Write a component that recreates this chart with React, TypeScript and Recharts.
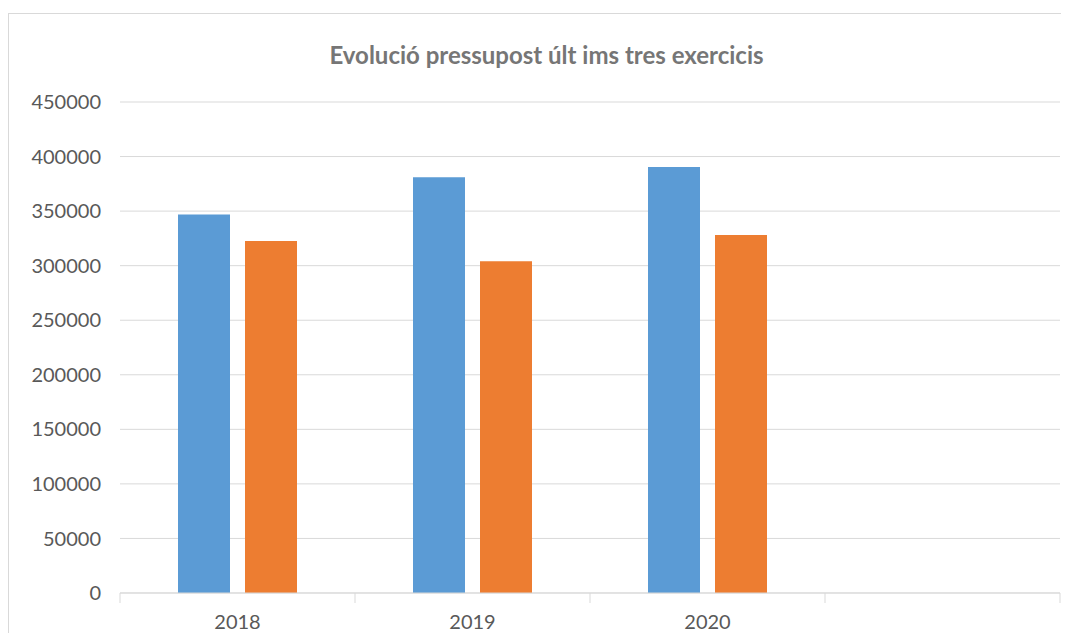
import React from "react";
import { BarChart, Bar, XAxis, YAxis, CartesianGrid } from "recharts";

const categories = ["2018", "2019", "2020", ""];
const seriesBlue = [347000, 381000, 390500, null];
const seriesOrange = [322500, 304000, 328000, null];
const yTicks = [0, 50000, 100000, 150000, 200000, 250000, 300000, 350000, 400000, 450000];
const title = "Evolució pressupost últ ims tres exercicis";

const data = categories.map((c, i) => ({ cat: c, a: seriesBlue[i], b: seriesOrange[i] }));

const CHART_W = 1075;
const CHART_H = 638;
const MARGIN = { top: 88, right: 24, left: 0, bottom: 0 };
const Y_W = 111;
const PLOT_W = CHART_W - MARGIN.left - MARGIN.right - Y_W;
const BAND = PLOT_W / categories.length;
const FONT = "Lato, 'Liberation Sans', sans-serif";
const TICK_MARGIN = 22;

const XTick = (props: any) => {
  const { x, y, payload, index } = props;
  const axisY = y - TICK_MARGIN;
  const left = x - BAND / 2;
  const right = x + BAND / 2;
  return (
    <g>
      <line x1={left} x2={left} y1={axisY} y2={axisY + 10} stroke="#d9d9d9" strokeWidth={1} />
      {index === categories.length - 1 && (
        <line x1={right} x2={right} y1={axisY} y2={axisY + 10} stroke="#d9d9d9" strokeWidth={1} />
      )}
      <text x={x} y={y} dy="0.71em" textAnchor="middle" fill="#595959" fontSize={20} fontFamily={FONT}>
        {payload.value}
      </text>
    </g>
  );
};

export default function App() {
  return (
    <div style={{ position: "relative", width: 1061, height: 625, overflow: "hidden" }}>
      <div
        style={{
          position: "absolute",
          left: 0,
          top: 5,
          width: 1077,
          height: 640,
          border: "1px solid #d9d9d9",
          boxSizing: "border-box",
          background: "#fff",
        }}
      >
        <div
          style={{
            position: "absolute",
            left: 0,
            top: 27,
            width: "100%",
            textAlign: "center",
            fontFamily: FONT,
            fontWeight: 700,
            fontSize: 24,
            color: "#767676",
            lineHeight: "28px",
          }}
        >
          {title}
        </div>
        <BarChart
          width={CHART_W}
          height={CHART_H}
          data={data}
          margin={MARGIN}
          barSize={52}
          barGap={15}
        >
          <CartesianGrid vertical={false} stroke="#d9d9d9" strokeWidth={1} />
          <XAxis
            dataKey="cat"
            height={59}
            axisLine={{ stroke: "#d9d9d9", strokeWidth: 1 }}
            tickLine={false}
            tickSize={0}
            tickMargin={TICK_MARGIN}
            interval={0}
            tick={<XTick />}
          />
          <YAxis
            width={Y_W}
            domain={[0, 450000]}
            ticks={yTicks}
            interval={0}
            axisLine={false}
            tickLine={false}
            tickSize={0}
            tickMargin={19}
            tick={{ fill: "#595959", fontSize: 20, fontFamily: FONT }}
          />
          <Bar dataKey="a" fill="#5B9BD5" isAnimationActive={false} />
          <Bar dataKey="b" fill="#ED7D31" isAnimationActive={false} />
        </BarChart>
      </div>
    </div>
  );
}
